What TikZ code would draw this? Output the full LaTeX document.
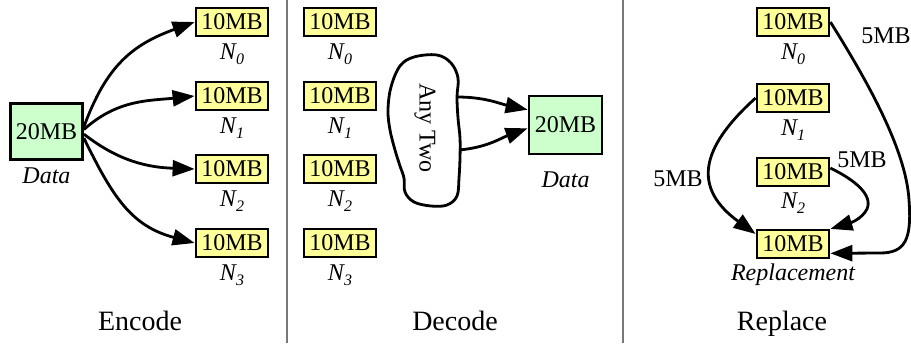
\documentclass[tikz,border=0pt]{standalone}
\usepackage{fontspec}
\setmainfont{Liberation Serif}[ItalicFont={Liberation Serif Italic}]
\usetikzlibrary{arrows.meta}
\definecolor{chunkyellow}{RGB}{255,255,153}
\definecolor{wholegreen}{RGB}{204,255,204}
\definecolor{rulegray}{RGB}{120,120,120}
\newcommand{\nodeid}[1]{N\raisebox{-5pt}{\fontsize{16}{16}\selectfont #1}}

\begin{document}
\begin{tikzpicture}[x=1pt,y=-1pt,
  chunk/.style={draw, line width=2.8pt, fill=chunkyellow, minimum width=72pt,
    minimum height=28pt, inner sep=0pt, font=\fontsize{24}{24}\selectfont},
  whole/.style={chunk, fill=wholegreen, minimum width=72pt, minimum height=56pt},
  link/.style={line width=2.8pt, -{Triangle[length=22pt,width=16pt]}},
  nlabel/.style={anchor=base, inner sep=0pt, font=\fontsize{24}{24}\selectfont\itshape},
  amount/.style={anchor=base, inner sep=0pt, font=\fontsize{24}{24}\selectfont},
  title/.style={anchor=base, inner sep=0pt, font=\fontsize{28}{28}\selectfont},
  divider/.style={draw=rulegray, line width=1.3pt}]

\useasboundingbox (0,0) rectangle (911,343);

% section dividers
\draw[divider] (287,0) -- (287,343);
\draw[divider] (623,0) -- (623,343);

% ---------------- Encode ----------------
\node[whole] (d1) at (46.5,131.5) {20MB};
\node[nlabel] (d1lab) at (46.5,183) {Data};
\node[chunk] (e0) at (232,22) {10MB};
\node[chunk] (e1) at (232,96) {10MB};
\node[chunk] (e2) at (232,169) {10MB};
\node[chunk] (e3) at (232,243) {10MB};
\node[nlabel] (e0lab) at (232,59) {\nodeid{0}};
\node[nlabel] (e1lab) at (232,133) {\nodeid{1}};
\node[nlabel] (e2lab) at (232,206) {\nodeid{2}};
\node[nlabel] (e3lab) at (232,280) {\nodeid{3}};
\draw[link] (d1.7) to[out=70,in=200,looseness=1.1] (e0.west);
\draw[link] (d1.3) to[out=42,in=186] (e1.west);
\draw[link] (d1.-4) to[out=-38,in=178] (e2.west);
\draw[link] (d1.-10) to[out=-64,in=165,looseness=1.1] (e3.west);
\node[title] (enc) at (140,330) {Encode};

% ---------------- Decode ----------------
\node[chunk] (k0) at (340,22) {10MB};
\node[chunk] (k1) at (340,96) {10MB};
\node[chunk] (k2) at (340,169) {10MB};
\node[chunk] (k3) at (340,243) {10MB};
\node[nlabel] (k0lab) at (340,59) {\nodeid{0}};
\node[nlabel] (k1lab) at (340,133) {\nodeid{1}};
\node[nlabel] (k2lab) at (340,206) {\nodeid{2}};
\node[nlabel] (k3lab) at (340,280) {\nodeid{3}};

% "any two" blob
\draw[line width=2.8pt] plot[smooth cycle, tension=0.6] coordinates {
  (400,66) (414,57) (437,55) (451,63) (458,78) (457,97) (458,118) (460,138)
  (460,158) (459,178) (457,196) (447,205) (431,206) (414,202) (405,192)
  (404,178) (400,166) (395,150) (390,130) (388,110) (391,87)};
\node[rotate=-90, font=\fontsize{24}{24}\selectfont] (any) at (425,128) {Any Two};
\coordinate (c1) at (457,97);
\coordinate (c2) at (459,150);

\node[whole, minimum width=73pt, minimum height=58pt] (d2) at (565.5,125) {20MB};
\node[nlabel] (d2lab) at (565.5,187) {Data};
\draw[link] (c1) to[out=0,in=168] (d2.158);
\draw[link] (c2) to[out=5,in=200] (d2.185);
\node[title] (dec) at (455,330) {Decode};

% ---------------- Replace ----------------
\node[chunk] (r0) at (793,22) {10MB};
\node[chunk] (r1) at (793,98) {10MB};
\node[chunk] (r2) at (793,172) {10MB};
\node[chunk] (rep) at (793,244) {10MB};
\node[nlabel] (r0lab) at (793,59) {\nodeid{0}};
\node[nlabel] (r1lab) at (793,135) {\nodeid{1}};
\node[nlabel] (r2lab) at (793,208) {\nodeid{2}};
\node[nlabel] (replab) at (793,280) {Replacement};

\draw[link] (r0.east) .. controls (868,82) and (906,150) .. (909,200)
  .. controls (912,240) and (905,253) .. (880,253) -- (rep.-14);
\draw[link] (r1.west) to[out=222,in=144,looseness=1.45] (rep.165);
\draw[link] (r2.6) .. controls (855,180) and (873,195) .. (867,209)
  .. controls (862,219) and (850,223) .. (rep.22);
\node[amount] (m0) at (886,43) {5MB};
\node[amount] (m1) at (678,186) {5MB};
\node[amount] (m2) at (862,167) {5MB};
\node[title] (rpl) at (782,330) {Replace};
\end{tikzpicture}
\end{document}
